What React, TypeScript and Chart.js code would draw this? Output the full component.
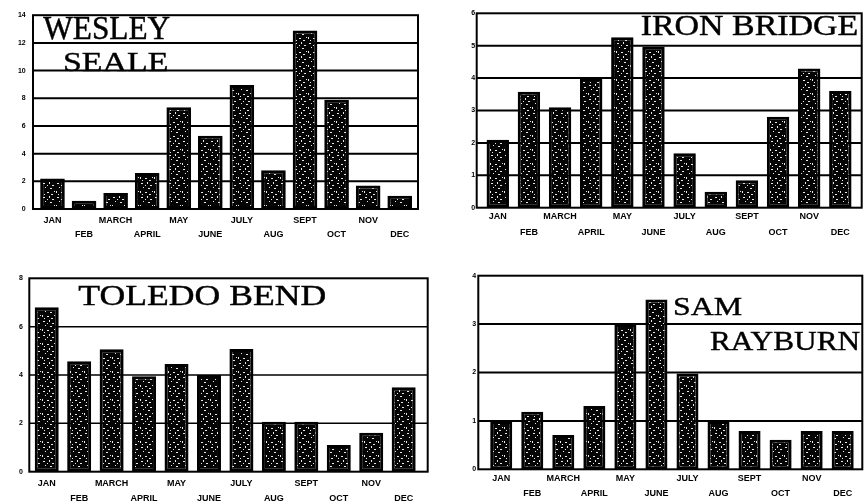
import React, { useEffect, useRef } from "react";
import { Chart, registerables } from "chart.js";

Chart.register(...registerables);

// ---------- data ----------
const months = ["JAN", "FEB", "MARCH", "APRIL", "MAY", "JUNE", "JULY", "AUG", "SEPT", "OCT", "NOV", "DEC"];

const wesleySeale = [2.2, 0.6, 1.15, 2.6, 7.35, 5.3, 8.95, 2.8, 12.9, 7.9, 1.7, 0.95];
const ironBridge = [2.1, 3.58, 3.1, 4.0, 5.26, 4.97, 1.68, 0.49, 0.85, 2.81, 4.3, 3.6];
const toledoBend = [6.8, 4.57, 5.07, 3.95, 4.46, 4.0, 5.08, 2.07, 2.07, 1.1, 1.61, 3.49];
const samRayburn = [1.0, 1.19, 0.71, 1.31, 3.0, 3.51, 1.98, 1.0, 0.79, 0.61, 0.79, 0.79];

// y-axis ranges [max, step]
const wesleyAxis = [14, 2];
const ironAxis = [6, 1];
const toledoAxis = [8, 2];
const samAxis = [4, 1];

const wesleyTitle = ["WESLEY", "SEALE"];
const ironTitle = ["IRON BRIDGE"];
const toledoTitle = ["TOLEDO BEND"];
const samTitle = ["SAM", "RAYBURN"];

// ---------- layout (positions / styles) ----------
type Box = [number, number, number, number]; // x1, yTop, x2, yBase
type Panel = {
  data: number[];
  axis: number[];
  titles: string[];
  titleBoxes: Box[];
  left: number; top: number; w: number; h: number;
  frameL: number; frameR: number; T: number; B: number;
  areaL: number; areaR: number;
  barPct: number; yPad: number; xPad: number; lh: number; gridW: number;
};

const panels: Panel[] = [
  {
    data: wesleySeale, axis: wesleyAxis, titles: wesleyTitle,
    titleBoxes: [[43.3, 17.3, 170, 39], [65, 53.3, 166.7, 71]],
    left: 0, top: 0, w: 434, h: 250,
    frameL: 33, frameR: 418, T: 14, B: 209, areaL: 36.7, areaR: 415.5,
    barPct: 0.78, yPad: 11, xPad: 4.7, lh: 14, gridW: 2,
  },
  {
    data: ironBridge, axis: ironAxis, titles: ironTitle,
    titleBoxes: [[207.7, 15, 422.7, 35]],
    left: 434, top: 0, w: 434, h: 250,
    frameL: 42.7, frameR: 427.7, T: 13.3, B: 207.7, areaL: 48.2, areaR: 421.9,
    barPct: 0.72, yPad: 7, xPad: 1, lh: 16, gridW: 2,
  },
  {
    data: toledoBend, axis: toledoAxis, titles: toledoTitle,
    titleBoxes: [[78.3, 35, 325, 55]],
    left: 0, top: 250, w: 434, h: 251,
    frameL: 29.3, frameR: 427.7, T: 28.3, B: 221.7, areaL: 30.5, areaR: 419.9,
    barPct: 0.74, yPad: 7.5, xPad: 4, lh: 15, gridW: 1.5,
  },
  {
    data: samRayburn, axis: samAxis, titles: samTitle,
    titleBoxes: [[241, 48.3, 307.7, 65], [276, 81.7, 426, 100]],
    left: 434, top: 250, w: 434, h: 251,
    frameL: 44.3, frameR: 428.3, T: 25.7, B: 219.3, areaL: 51.7, areaR: 424.2,
    barPct: 0.71, yPad: 9.5, xPad: 1.5, lh: 15, gridW: 2,
  },
];

const TITLE_FONT = '32px "Liberation Serif", "Times New Roman", serif';
const TICK_FONT_FAMILY = '"Liberation Sans", Arial, sans-serif';

function makePattern(ctx: CanvasRenderingContext2D) {
  const c = document.createElement("canvas");
  c.width = 14;
  c.height = 14;
  const g = c.getContext("2d")!;
  g.fillStyle = "#050505";
  g.fillRect(0, 0, 14, 14);
  g.fillStyle = "#e8e8e8";
  const specks = [
    [1, 1, 2, 1], [7, 0, 1, 2], [10, 3, 2, 1], [3, 5, 1, 1], [8, 6, 2, 1],
    [0, 9, 1, 2], [5, 10, 2, 1], [12, 9, 1, 1], [9, 12, 2, 1], [2, 12, 1, 1],
    [5, 3, 1, 1],
  ];
  specks.forEach(([x, y, w, h]) => g.fillRect(x, y, w, h));
  return ctx.createPattern(c, "repeat");
}

function drawFit(ctx: CanvasRenderingContext2D, text: string, box: Box) {
  const [x1, yTop, x2, yBase] = box;
  ctx.save();
  ctx.font = TITLE_FONT;
  ctx.textBaseline = "alphabetic";
  ctx.textAlign = "left";
  const m = ctx.measureText(text);
  const w = m.actualBoundingBoxLeft + m.actualBoundingBoxRight;
  const h = m.actualBoundingBoxAscent;
  ctx.translate(x1, yBase);
  ctx.scale((x2 - x1) / w, (yBase - yTop) / h);
  ctx.fillStyle = "#000";
  ctx.strokeStyle = "#000";
  ctx.lineWidth = 0.45;
  ctx.fillText(text, m.actualBoundingBoxLeft, 0);
  ctx.strokeText(text, m.actualBoundingBoxLeft, 0);
  ctx.restore();
}

function ChartPanel({ p }: { p: Panel }) {
  const ref = useRef<HTMLCanvasElement | null>(null);

  useEffect(() => {
    const canvas = ref.current!;
    const ctx = canvas.getContext("2d")!;
    const pattern = makePattern(ctx);

    const framePlugin = {
      id: "frameGrid",
      beforeDatasetsDraw(chart: any) {
        const c = chart.ctx as CanvasRenderingContext2D;
        const y = chart.scales.y;
        c.save();
        c.strokeStyle = "#000";
        c.lineWidth = p.gridW;
        y.ticks.forEach((t: any) => {
          if (t.value <= 0 || t.value >= p.axis[0]) return;
          const py = y.getPixelForValue(t.value);
          c.beginPath();
          c.moveTo(p.frameL, py);
          c.lineTo(p.frameR, py);
          c.stroke();
        });
        c.restore();
      },
      afterDatasetsDraw(chart: any) {
        const c = chart.ctx as CanvasRenderingContext2D;
        const a = chart.chartArea;
        c.save();
        c.strokeStyle = "#000";
        c.lineWidth = 2;
        c.strokeRect(p.frameL, a.top, p.frameR - p.frameL, a.bottom - a.top);
        c.restore();
        p.titles.forEach((t, i) => drawFit(c, t, p.titleBoxes[i]));
      },
    };

    const chart = new Chart(canvas, {
      type: "bar",
      data: {
        labels: months,
        datasets: [
          {
            data: p.data,
            backgroundColor: pattern as any,
            borderColor: "#000",
            borderWidth: 3,
            borderSkipped: false,
            barPercentage: p.barPct,
            categoryPercentage: 1,
          },
        ],
      },
      options: {
        responsive: false,
        devicePixelRatio: 1,
        animation: false,
        layout: { padding: { left: 0, right: p.w - p.areaR, top: p.T, bottom: 0 } },
        plugins: { legend: { display: false }, tooltip: { enabled: false }, title: { display: false } },
        scales: {
          x: {
            grid: { display: false, drawTicks: false, tickLength: 0 },
            border: { display: false },
            afterFit: (s: any) => { s.height = p.h - p.B; },
            ticks: {
              autoSkip: false,
              maxRotation: 0,
              minRotation: 0,
              padding: p.xPad,
              color: "#000",
              font: { family: TICK_FONT_FAMILY, size: 9, weight: "bold", lineHeight: `${p.lh}px` as any },
              callback: function (this: any, value: any, index: number) {
                const l = this.getLabelForValue(value);
                return index % 2 === 0 ? [l, ""] : ["", l];
              },
            },
          },
          y: {
            min: 0,
            max: p.axis[0],
            grid: { display: false, drawTicks: false, tickLength: 0 },
            border: { display: false },
            afterFit: (s: any) => { s.width = p.areaL; },
            ticks: {
              stepSize: p.axis[1],
              padding: p.yPad,
              color: "#000",
              font: { family: TICK_FONT_FAMILY, size: 7, weight: "bold" },
            },
          },
        },
      },
      plugins: [framePlugin],
    } as any);

    return () => chart.destroy();
  }, [p]);

  return (
    <canvas
      ref={ref}
      width={p.w}
      height={p.h}
      style={{ position: "absolute", left: p.left, top: p.top, width: p.w, height: p.h }}
    />
  );
}

export default function App() {
  return (
    <div style={{ position: "absolute", left: 0, top: 0, width: 868, height: 501, background: "#fff" }}>
      {panels.map((p, i) => (
        <ChartPanel key={i} p={p} />
      ))}
    </div>
  );
}
